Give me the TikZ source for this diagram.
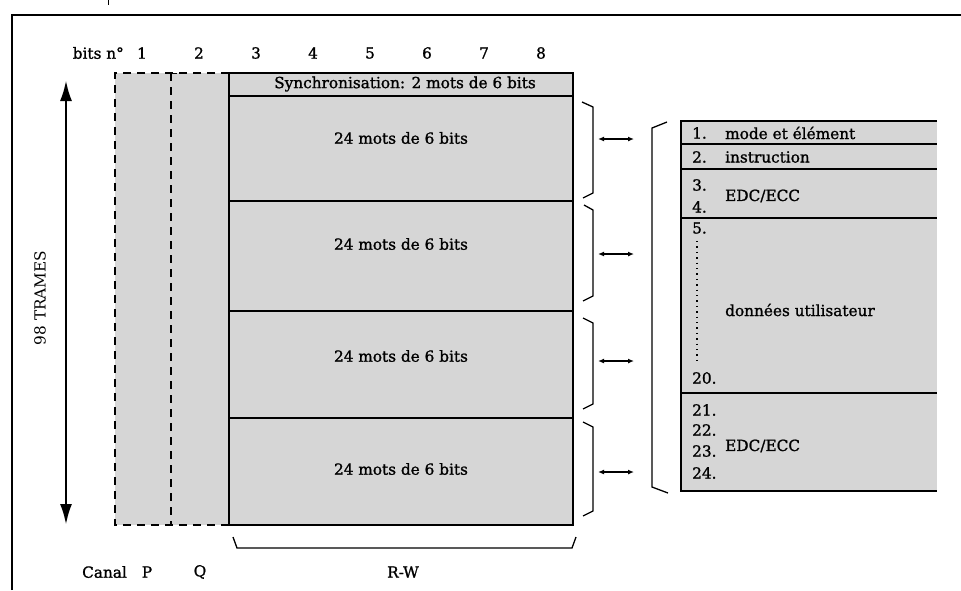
\documentclass[tikz,border=0pt]{standalone}
\usepackage{fontspec}
\setmainfont{DejaVu Serif}[BoldFont={DejaVu Serif},BoldFeatures={FakeBold=1.2}]
\usetikzlibrary{arrows.meta}
\definecolor{cellgray}{RGB}{214,214,214}
\tikzset{
  lbl/.style={inner sep=0pt, font=\fontsize{15.3}{17}\selectfont\bfseries},
  lblw/.style={lbl, anchor=west},
  frameline/.style={line width=1.8pt},
  boxline/.style={line width=1.1pt},
  dashline/.style={line width=1.3pt, dash pattern=on 8pt off 6pt},
  brk/.style={line width=1.3pt},
  dblarrow/.style={line width=1.4pt, {Latex[length=6pt,width=5pt]}-{Latex[length=6pt,width=5pt]}},
  bigarrow/.style={line width=2.8pt, {Latex[length=21pt,width=12pt]}-{Latex[length=21pt,width=12pt]}}
}
\begin{document}
\begin{tikzpicture}[x=1pt,y=-1pt]
\useasboundingbox (0,0) rectangle (961,590);
% outer frame
\draw[frameline] (12,590) -- (12,15) -- (961,15);
\draw[line width=1pt] (108,0) -- (108,5);
% bit numbers
\node[lbl, anchor=east] (bitsn) at (124,53) {bits n°};
\foreach \i in {1,...,8} {
  \node[lbl] (b\i) at ({142+57*(\i-1)},53) {\i};
}
% P/Q channels
\fill[cellgray] (115,73) rectangle (229,525);
\draw[dashline] (229,73) -- (115,73) -- (115,525) -- (229,525);
\draw[dashline] (171,73) -- (171,525);
\draw[line width=1pt] (165,73) -- (177,73);
% R-W box
\fill[cellgray] (229,73) rectangle (573,525);
\draw[boxline] (229,73) rectangle (573,525);
\foreach \y in {96,201,311,418} { \draw[boxline] (229,\y) -- (573,\y); }
\node[lbl] (sync) at (405,84) {Synchronisation: 2 mots de 6 bits};
\node[lbl] (m1) at (401,138) {24 mots de 6 bits};
\node[lbl] (m2) at (401,244) {24 mots de 6 bits};
\node[lbl] (m3) at (401,356) {24 mots de 6 bits};
\node[lbl] (m4) at (401,469) {24 mots de 6 bits};
% 98 trames
\coordinate (tt) at (66,80);
\coordinate (tb) at (66,525);
\draw[bigarrow] (tt) -- (tb);
\node[lbl, rotate=90, font=\fontsize{15.3}{17}\selectfont] (trames) at (40,298) {98 TRAMES};
% brackets at right of box
\draw[brk] (582,102) -- (593,107) -- (593,193) -- (583,198);
\draw[brk] (584,205) -- (593,210) -- (593,296) -- (583,301);
\draw[brk] (583,318) -- (593,323) -- (593,404) -- (583,409);
\draw[brk] (583,422) -- (593,427) -- (593,511) -- (583,516);
% arrows
\foreach \y [count=\k] in {139,254,361,472} {
  \coordinate (al\k) at (598,\y);
  \coordinate (ar\k) at (634,\y);
  \draw[dblarrow] (al\k) -- (ar\k);
}
% big bracket
\draw[brk] (667,122) -- (652,128) -- (652,487) -- (668,493);
% right table
\fill[cellgray] (681,121) rectangle (937,491);
\draw[boxline] (937,121) -- (681,121) -- (681,491) -- (937,491);
\foreach \y in {144,169,218,393} { \draw[boxline] (681,\y) -- (937,\y); }
\node[lblw] (n1) at (692,133) {1.};
\node[lblw] (t1) at (725,133) {mode et élément};
\node[lblw] (n2) at (692,157) {2.};
\node[lblw] (t2) at (725,157) {instruction};
\node[lblw] (n3) at (692,185) {3.};
\node[lblw] (n4) at (692,207) {4.};
\node[lblw] (t3) at (725,196) {EDC/ECC};
\node[lblw] (n5) at (692,228) {5.};
\draw[line width=1.4pt, dash pattern=on 1.4pt off 4pt] (697,241) -- (697,362);
\node[lblw] (t5) at (725,310) {données utilisateur};
\node[lblw] (n20) at (692,378) {20.};
\node[lblw] (n21) at (692,410) {21.};
\node[lblw] (n22) at (692,430) {22.};
\node[lblw] (n23) at (692,451) {23.};
\node[lblw] (n24) at (692,473) {24.};
\node[lblw] (t21) at (725,446) {EDC/ECC};
% bottom bracket and labels
\draw[brk] (233,537) -- (237,548) -- (572,548) -- (576,537);
\node[lblw] (canal) at (82,572) {Canal};
\node[lbl] (P) at (147,572) {P};
\node[lbl] (Q) at (200,572) {Q};
\node[lbl] (RW) at (403,572) {R-W};
\end{tikzpicture}
\end{document}
